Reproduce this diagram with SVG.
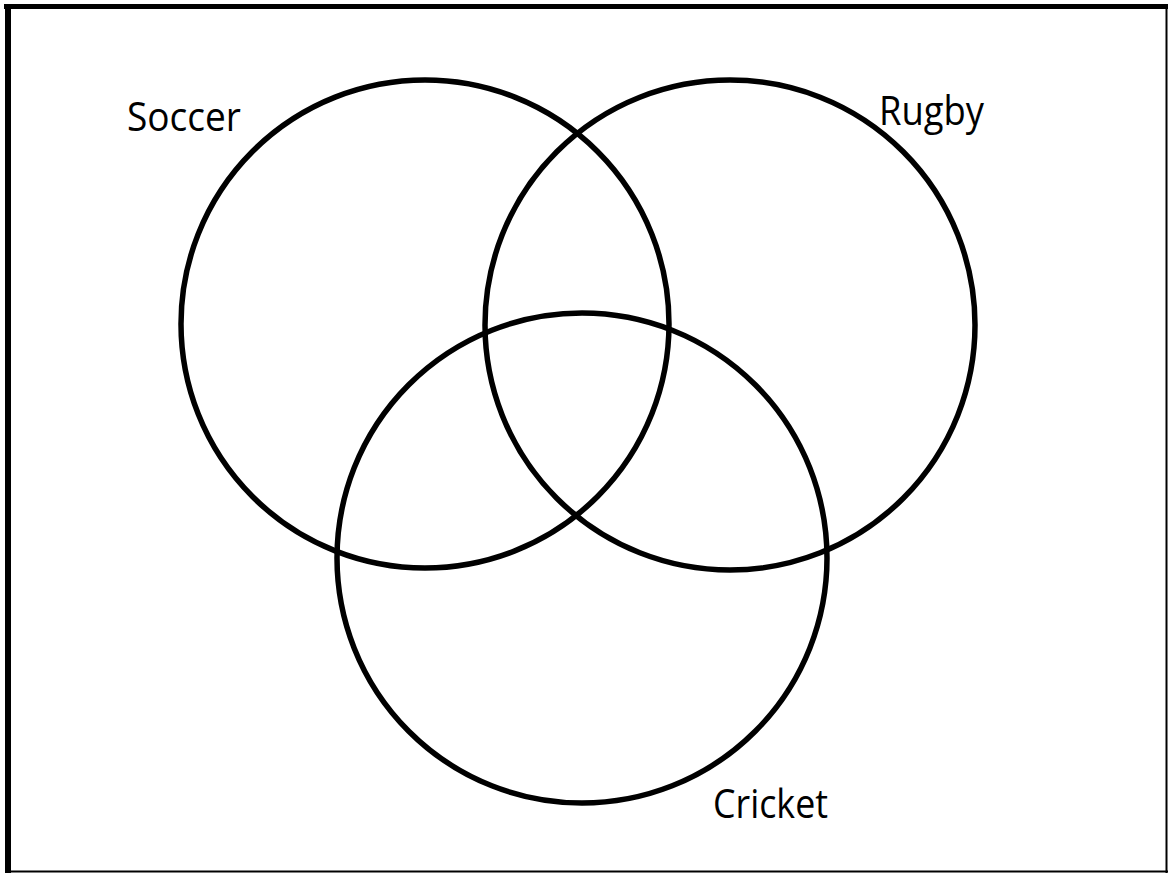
<svg xmlns="http://www.w3.org/2000/svg" width="1169" height="873" viewBox="0 0 1169 873">
<style>
.set{fill:none;stroke:#000;stroke-width:5.5}
.lbl{font-family:"Open Sans","Liberation Sans",sans-serif;font-size:40px;fill:#000}
</style>
<rect width="1169" height="873" fill="#fff"/>
<g id="frame" fill="#000">
<rect x="4" y="4" width="1164" height="5"/>
<rect x="5" y="4" width="6" height="869"/>
<rect x="1165.5" y="4" width="2" height="869"/>
<rect x="5" y="870.5" width="1163" height="2"/>
</g>
<g id="soccer">
<circle class="set" cx="425" cy="324" r="244"/>
<text class="lbl" x="127" y="131" textLength="114" lengthAdjust="spacingAndGlyphs">Soccer</text>
</g>
<g id="rugby">
<circle class="set" cx="730" cy="325" r="245"/>
<text class="lbl" x="879" y="125" textLength="105" lengthAdjust="spacingAndGlyphs">Rugby</text>
</g>
<g id="cricket">
<circle class="set" cx="582" cy="558" r="245"/>
<text class="lbl" x="713" y="818" textLength="115" lengthAdjust="spacingAndGlyphs">Cricket</text>
</g>
<g id="connectors"></g>
</svg>
